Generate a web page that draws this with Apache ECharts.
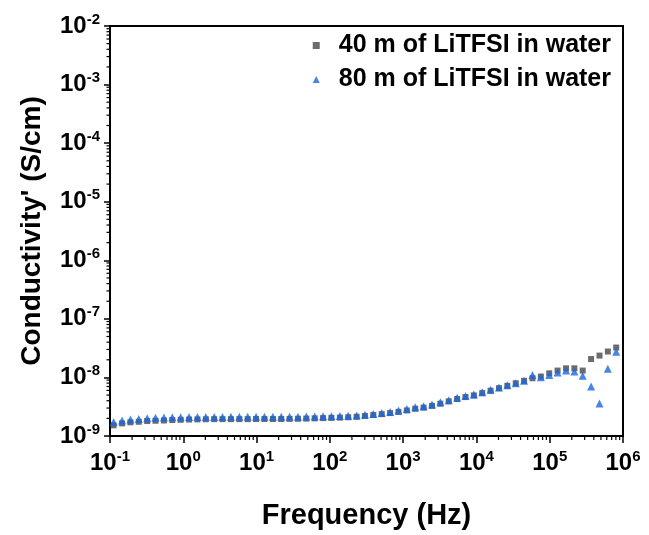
<!DOCTYPE html>
<html>
<head>
<meta charset="utf-8">
<script src="https://cdn.jsdelivr.net/npm/echarts@6/dist/echarts.min.js"></script>
<style>
  html, body { margin: 0; padding: 0; background: #fff; }
  #chart { width: 649px; height: 535px; }
</style>
</head>
<body>
<div id="chart"></div>
<script>
// frequency points (Hz)
var freqHz = [
  0.112, 0.146, 0.190, 0.247, 0.322, 0.418, 0.544, 0.708, 0.921, 1.20,
  1.56, 2.03, 2.64, 3.43, 4.47, 5.82, 7.57, 9.84, 12.8, 16.7,
  21.7, 28.2, 36.7, 47.7, 62.1, 80.8, 105, 137, 178, 232,
  301, 392, 510, 664, 863, 1123, 1462, 1901, 2474, 3219,
  4188, 5448, 7088, 9222, 12000, 15600, 20300, 26400, 34400, 44700,
  58200, 75700, 98500, 128000, 167000, 217000, 282000, 367000, 478000, 621000,
  808000
];

// 40 m of LiTFSI in water (S/cm)
var cond40m = [
  1.52e-9, 1.64e-9, 1.71e-9, 1.75e-9, 1.80e-9, 1.82e-9, 1.84e-9, 1.87e-9, 1.89e-9, 1.91e-9,
  1.92e-9, 1.93e-9, 1.94e-9, 1.94e-9, 1.94e-9, 1.94e-9, 1.94e-9, 1.95e-9, 1.95e-9, 1.95e-9,
  1.95e-9, 1.96e-9, 1.97e-9, 1.98e-9, 2.00e-9, 2.02e-9, 2.04e-9, 2.06e-9, 2.09e-9, 2.13e-9,
  2.20e-9, 2.28e-9, 2.36e-9, 2.46e-9, 2.58e-9, 2.73e-9, 2.92e-9, 3.05e-9, 3.27e-9, 3.56e-9,
  3.91e-9, 4.28e-9, 4.62e-9, 4.93e-9, 5.40e-9, 5.93e-9, 6.56e-9, 7.19e-9, 7.96e-9, 8.75e-9,
  9.68e-9, 1.035e-8, 1.175e-8, 1.31e-8, 1.43e-8, 1.43e-8, 1.31e-8, 2.06e-8, 2.36e-8, 2.77e-8,
  3.24e-8
];

// 80 m of LiTFSI in water (S/cm)
var cond80m = [
  1.73e-9, 1.84e-9, 1.92e-9, 1.96e-9, 2.01e-9, 2.04e-9, 2.06e-9, 2.09e-9, 2.10e-9, 2.11e-9,
  2.11e-9, 2.12e-9, 2.12e-9, 2.12e-9, 2.13e-9, 2.13e-9, 2.13e-9, 2.13e-9, 2.13e-9, 2.13e-9,
  2.13e-9, 2.13e-9, 2.14e-9, 2.15e-9, 2.16e-9, 2.17e-9, 2.18e-9, 2.19e-9, 2.21e-9, 2.24e-9,
  2.30e-9, 2.38e-9, 2.47e-9, 2.58e-9, 2.72e-9, 2.89e-9, 3.09e-9, 3.21e-9, 3.44e-9, 3.76e-9,
  4.06e-9, 4.52e-9, 4.80e-9, 5.13e-9, 5.61e-9, 6.15e-9, 6.75e-9, 7.36e-9, 7.96e-9, 8.75e-9,
  1.10e-8, 1.01e-8, 1.10e-8, 1.21e-8, 1.31e-8, 1.26e-8, 1.07e-8, 6.97e-9, 3.59e-9, 1.41e-8,
  2.74e-8
];

var seriesNames = ['40 m of LiTFSI in water', '80 m of LiTFSI in water'];
var xTickExponents = ['-1', '0', '1', '2', '3', '4', '5', '6'];
var yTickExponents = ['-9', '-8', '-7', '-6', '-5', '-4', '-3', '-2'];

var FONT = '"Liberation Sans", Arial, sans-serif';

function pair(xs, ys) {
  return xs.map(function (x, i) { return [x, ys[i]]; });
}

function powLabel(exps) {
  return function (value) {
    var e = Math.round(Math.log10(value));
    if (exps.indexOf(String(e)) < 0) return '';
    return '{a|10}{b|' + e + '}';
  };
}

var powRich = {
  a: { fontFamily: FONT, fontWeight: 'bold', fontSize: 24, color: '#000', lineHeight: 28 },
  b: { fontFamily: FONT, fontWeight: 'bold', fontSize: 15, color: '#000', lineHeight: 28, verticalAlign: 'top' }
};

// minor log ticks (2..9 x 10^k) drawn as a decoration
var minorTicks = [];
for (var k = -1; k < 6; k++) {
  for (var m = 2; m <= 9; m++) minorTicks.push([m * Math.pow(10, k), 1e-9, 0]);
}
for (var k2 = -9; k2 < -2; k2++) {
  for (var m2 = 2; m2 <= 9; m2++) minorTicks.push([0.1, m2 * Math.pow(10, k2), 1]);
}

var chart = echarts.init(document.getElementById('chart'), null, { renderer: 'canvas' });

var option = {
  animation: false,
  backgroundColor: '#fff',
  grid: {
    left: 110, right: 26, top: 26, bottom: 95,
    show: true, borderColor: '#000', borderWidth: 2, backgroundColor: 'transparent'
  },
  legend: {
    data: seriesNames,
    orient: 'vertical',
    right: 33,
    top: 26,
    itemWidth: 7,
    itemHeight: 7,
    itemGap: 5,
    textStyle: {
      fontFamily: FONT, fontWeight: 'bold', fontSize: 25, color: '#000',
      lineHeight: 29, padding: [0, 0, 0, 14]
    }
  },
  xAxis: {
    type: 'log',
    logBase: 10,
    min: 0.1,
    max: 1e6,
    splitNumber: 7,
    name: 'Frequency (Hz)',
    nameLocation: 'middle',
    nameGap: 65,
    nameTextStyle: { fontFamily: FONT, fontWeight: 'bold', fontSize: 29, color: '#000' },
    axisLine: { lineStyle: { color: '#000', width: 2 } },
    axisTick: { length: 7, lineStyle: { color: '#000', width: 1.5 } },
    splitLine: { show: false },
    axisLabel: { margin: 13, formatter: powLabel(xTickExponents), rich: powRich }
  },
  yAxis: {
    type: 'log',
    logBase: 10,
    min: 1e-9,
    max: 1e-2,
    splitNumber: 7,
    name: "Conductivity' (S/cm)",
    nameLocation: 'middle',
    nameGap: 64,
    nameTextStyle: { fontFamily: FONT, fontWeight: 'bold', fontSize: 28, color: '#000' },
    axisLine: { lineStyle: { color: '#000', width: 2 } },
    axisTick: { length: 6, lineStyle: { color: '#000', width: 1.5 } },
    splitLine: { show: false },
    axisLabel: { margin: 10, formatter: powLabel(yTickExponents), rich: powRich }
  },
  series: [
    {
      name: seriesNames[0],
      type: 'scatter',
      symbol: 'rect',
      symbolSize: 6,
      itemStyle: { color: '#474747' },
      data: pair(freqHz, cond40m)
    },
    {
      name: seriesNames[1],
      type: 'scatter',
      symbol: 'triangle',
      symbolSize: 8,
      itemStyle: { color: '#1a68de' },
      data: pair(freqHz, cond80m)
    },
    {
      type: 'custom',
      silent: true,
      clip: false,
      encode: { x: 0, y: 1 },
      data: minorTicks,
      renderItem: function (params, api) {
        var p = api.coord([api.value(0), api.value(1)]);
        var horiz = api.value(2) === 1;
        return {
          type: 'line',
          shape: horiz
            ? { x1: p[0] - 3.5, y1: p[1], x2: p[0], y2: p[1] }
            : { x1: p[0], y1: p[1], x2: p[0], y2: p[1] + 4 },
          style: { stroke: '#000', lineWidth: 1.2 }
        };
      }
    }
  ]
};

chart.setOption(option);
</script>
</body>
</html>
